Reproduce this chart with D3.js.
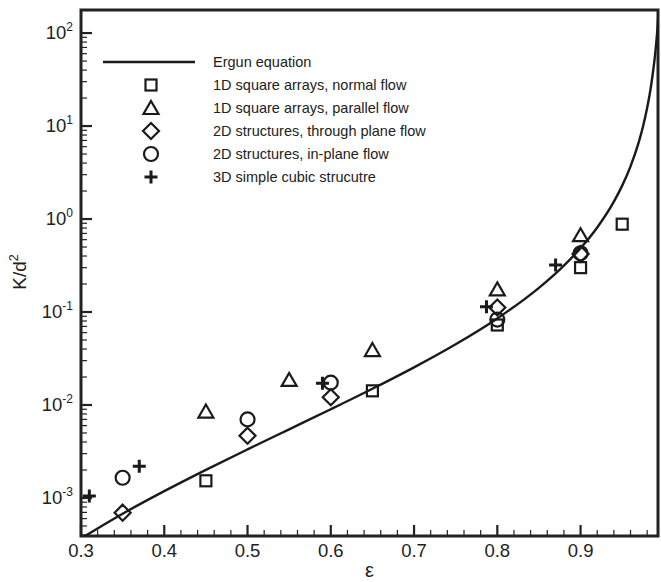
<!DOCTYPE html>
<html><head><meta charset="utf-8">
<script src="https://cdn.jsdelivr.net/npm/d3@7"></script>
<style>html,body{margin:0;padding:0;background:#fff;} svg{display:block;font-family:"Liberation Sans",Arial,Helvetica,sans-serif;}</style>
</head><body><svg id="chart" width="661" height="582"></svg>
<script>
// ---- data ----
const ergunEps = [0.30,0.35,0.40,0.45,0.50,0.55,0.60,0.65,0.70,0.75,0.80,0.85,0.875,0.90,0.92,0.94,0.95,0.96,0.97,0.975,0.98,0.985,0.99,0.9925,0.995];
const ergunK   = [3.67e-4,6.77e-4,1.185e-3,2.008e-3,3.333e-3,5.477e-3,9.0e-3,0.01495,0.02541,0.045,0.08533,0.182,0.2858,0.486,0.811,1.538,2.286,3.686,6.761,9.887,15.69,28.32,64.69,115.9,262.7];

const sqEps  = [0.45,0.65,0.80,0.90,0.95];
const sqK    = [1.53e-3,0.0142,0.0725,0.30,0.88];
const triEps = [0.45,0.55,0.65,0.80,0.90];
const triK   = [8.5e-3,0.0186,0.039,0.175,0.67];
const diaEps = [0.35,0.50,0.60,0.80,0.90];
const diaK   = [6.95e-4,4.68e-3,0.0121,0.112,0.42];
const cirEps = [0.35,0.50,0.60,0.80,0.90];
const cirK   = [1.65e-3,7.0e-3,0.0174,0.083,0.428];
const plusEps = [0.31,0.37,0.59,0.787,0.87];
const plusK   = [1.05e-3,2.2e-3,0.0171,0.114,0.32];

const xTicks = [0.3,0.4,0.5,0.6,0.7,0.8,0.9];
const yExps  = [-3,-2,-1,0,1,2];
const legendLabels = ["Ergun equation","1D square arrays, normal flow","1D square arrays, parallel flow","2D structures, through plane flow","2D structures, in-plane flow","3D simple cubic strucutre"];

// ---- layout ----
const L=81, R=658, T=10, B=536;
const svg = d3.select("#chart");
const x = d3.scaleLinear().domain([0.3,0.993]).range([L,R]);
const y = d3.scaleLog().domain([3.9e-4,177]).range([B,T]);

svg.append("defs").append("clipPath").attr("id","clip")
  .append("rect").attr("x",L).attr("y",T).attr("width",R-L).attr("height",B-T);

// minor ticks
const xMinor = d3.range(0.32,0.993,0.02).filter(v=>Math.abs(v*10-Math.round(v*10))>1e-6);
const ax = svg.append("g");
ax.selectAll(".xmin").data(xMinor).join("line")
  .attr("x1",d=>x(d)).attr("x2",d=>x(d)).attr("y1",B).attr("y2",B-6)
  .attr("stroke","#222").attr("stroke-width",1.2);
ax.selectAll(".xmaj").data(xTicks).join("line")
  .attr("x1",d=>x(d)).attr("x2",d=>x(d)).attr("y1",B).attr("y2",B-11)
  .attr("stroke","#222").attr("stroke-width",2.2);
ax.selectAll(".xlab").data(xTicks).join("text")
  .attr("x",d=>x(d)).attr("y",B+21).attr("text-anchor","middle")
  .attr("font-size",18.5).attr("fill","#222").text(d=>d.toFixed(1));

const yMinor=[];
for(let e=-4;e<=2;e++){for(let m=2;m<=9;m++){const v=m*Math.pow(10,e); if(v>=3.9e-4 && v<=177) yMinor.push(v);}}
ax.selectAll(".ymin").data(yMinor).join("line")
  .attr("x1",L).attr("x2",L+6).attr("y1",d=>y(d)).attr("y2",d=>y(d))
  .attr("stroke","#222").attr("stroke-width",1.2);
ax.selectAll(".ymaj").data(yExps).join("line")
  .attr("x1",L).attr("x2",L+11).attr("y1",d=>y(Math.pow(10,d))).attr("y2",d=>y(Math.pow(10,d)))
  .attr("stroke","#222").attr("stroke-width",2.2);
const yl = ax.selectAll(".ylab").data(yExps).join("text")
  .attr("x",L-8).attr("y",d=>y(Math.pow(10,d))+6).attr("text-anchor","end")
  .attr("font-size",18.5).attr("fill","#222");
yl.append("tspan").text("10");
yl.append("tspan").attr("font-size",12).attr("dy",-8).text(d=>String(d));

// frame
svg.append("rect").attr("x",L).attr("y",T).attr("width",R-L).attr("height",B-T)
  .attr("fill","none").attr("stroke","#222").attr("stroke-width",3);

// axis titles
svg.append("text").attr("x",(L+R)/2).attr("y",577).attr("text-anchor","middle")
  .attr("font-size",20).attr("fill","#222").text("ε");
const yt = svg.append("text").attr("transform","translate(26,272) rotate(-90)")
  .attr("text-anchor","middle").attr("font-size",19).attr("fill","#222");
yt.append("tspan").text("K/d");
yt.append("tspan").attr("font-size",12.5).attr("dy",-8).text("2");

// Ergun curve
const ergun = ergunEps.map((e,i)=>[e,ergunK[i]]);
svg.append("path").datum(ergun).attr("clip-path","url(#clip)")
  .attr("fill","none").attr("stroke","#1a1a1a").attr("stroke-width",2.4)
  .attr("d",d3.line().x(d=>x(d[0])).y(d=>y(d[1])).curve(d3.curveMonotoneX));

// marker shapes
const col="#1a1a1a";
function drawMarker(g,type,cx,cy){
  if(type==="sq") g.append("rect").attr("x",cx-5.5).attr("y",cy-5.5).attr("width",11).attr("height",11)
      .attr("fill","none").attr("stroke",col).attr("stroke-width",2.2);
  else if(type==="tri") g.append("path").attr("d",`M${cx},${cy-7} L${cx+7.5},${cy+6} L${cx-7.5},${cy+6} Z`)
      .attr("fill","none").attr("stroke",col).attr("stroke-width",2.2).attr("stroke-linejoin","miter");
  else if(type==="dia") g.append("path").attr("d",`M${cx},${cy-8} L${cx+8},${cy} L${cx},${cy+8} L${cx-8},${cy} Z`)
      .attr("fill","none").attr("stroke",col).attr("stroke-width",2.2);
  else if(type==="cir") g.append("circle").attr("cx",cx).attr("cy",cy).attr("r",7)
      .attr("fill","none").attr("stroke",col).attr("stroke-width",2.2);
  else if(type==="plus") g.append("path").attr("d",`M${cx-6.5},${cy} H${cx+6.5} M${cx},${cy-6.5} V${cy+6.5}`)
      .attr("fill","none").attr("stroke",col).attr("stroke-width",3);
}
const series = [["sq",sqEps,sqK],["tri",triEps,triK],["dia",diaEps,diaK],["cir",cirEps,cirK],["plus",plusEps,plusK]];
const mk = svg.append("g");
series.forEach(([t,es,ks])=>{
  mk.selectAll(null).data(es.map((e,i)=>[e,ks[i]])).join("g")
    .each(function(d){ drawMarker(d3.select(this),t,x(d[0]),y(d[1])); });
});

// legend
const lg = svg.append("g");
const rowY = d3.scalePoint().domain(d3.range(6)).range([62,177]);
lg.append("line").attr("x1",103).attr("x2",195).attr("y1",rowY(0)).attr("y2",rowY(0))
  .attr("stroke",col).attr("stroke-width",2.4);
["sq","tri","dia","cir","plus"].forEach((t,i)=>drawMarker(lg,t,151,rowY(i+1)));
lg.selectAll("text").data(legendLabels).join("text")
  .attr("x",213).attr("y",(d,i)=>rowY(i)).attr("dy","0.35em")
  .attr("font-size",14.5).attr("fill","#222").text(d=>d);
</script></body></html>
